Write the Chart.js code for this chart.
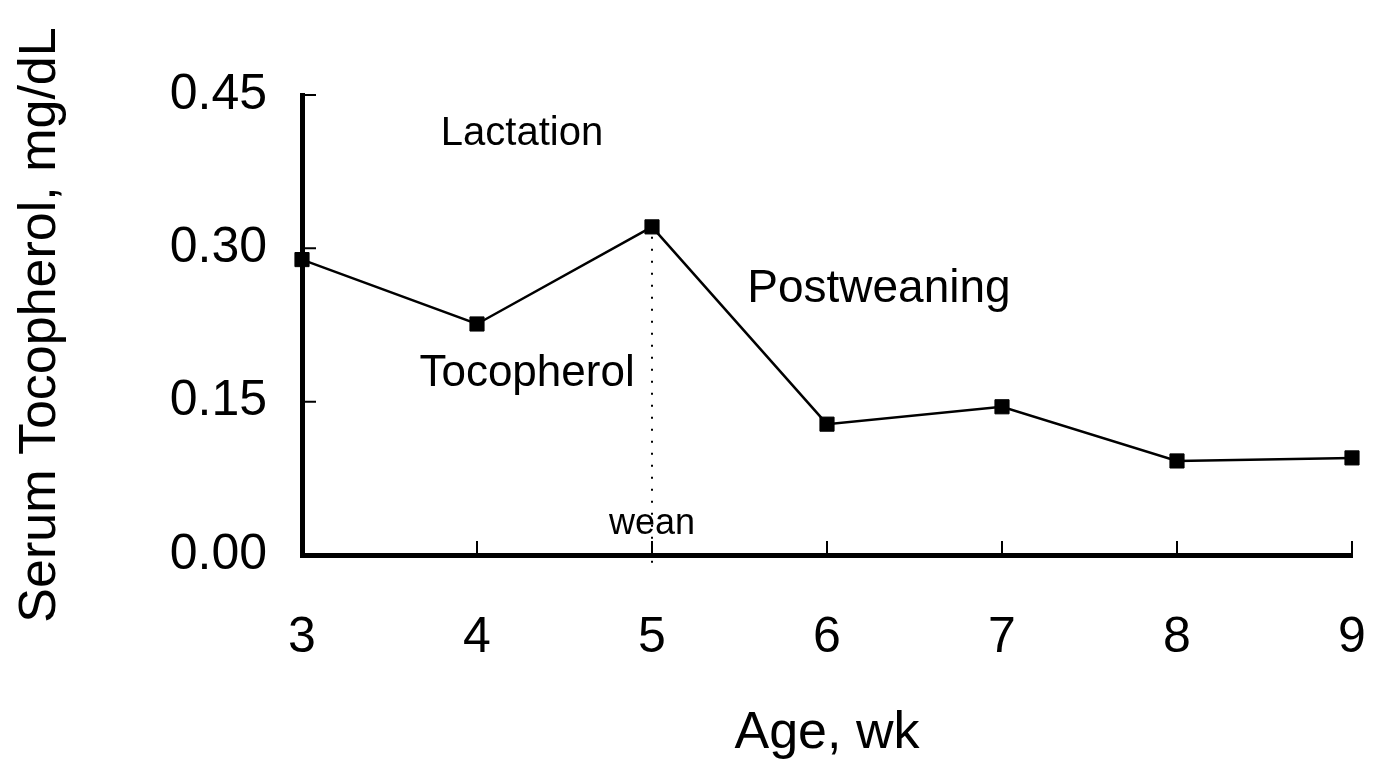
<!DOCTYPE html>
<html lang="en">
<head>
  <meta charset="UTF-8">
  <title>Serum Tocopherol by Age</title>
  <script src="https://cdn.jsdelivr.net/npm/chart.js"></script>
  <style>
    html, body { margin: 0; padding: 0; background: #fff; }
    #wrap { width: 1380px; height: 759px; }
  </style>
</head>
<body>
  <div id="wrap">
    <canvas id="toco-chart" width="1380" height="759"></canvas>
  </div>

  <script>
    // data
    const weeks = [3, 4, 5, 6, 7, 8, 9];
    const tocopherol = [0.289, 0.226, 0.321, 0.128, 0.145, 0.092, 0.095];
    const yTicks = [0, 0.15, 0.30, 0.45];
    const weanWeek = 5;

    // text labels placed in data units
    const notes = [
      { text: 'Lactation', x: 4.257, y: 0.412, size: 40 },
      { text: 'Tocopherol', x: 4.286, y: 0.1775, size: 44 },
      { text: 'Postweaning', x: 6.297, y: 0.260, size: 46 },
      { text: 'wean', x: 5.0, y: 0.030, size: 36 }
    ];

    const fontFamily = '"Liberation Sans", Arial, sans-serif';

    // inward tick marks, dotted wean line and the text notes
    const extras = {
      id: 'extras',
      afterDatasetsDraw(chart) {
        const ctx = chart.ctx;
        const xs = chart.scales.x;
        const ys = chart.scales.y;
        const area = chart.chartArea;
        ctx.save();

        // ticks pointing into the plot
        ctx.strokeStyle = '#000';
        ctx.lineWidth = 2;
        ctx.beginPath();
        weeks.forEach(w => {
          if (w === weeks[0]) return;
          const px = xs.getPixelForValue(w);
          ctx.moveTo(px, area.bottom);
          ctx.lineTo(px, area.bottom - 14);
        });
        yTicks.forEach(v => {
          if (v === 0) return;
          const py = ys.getPixelForValue(v);
          ctx.moveTo(area.left, py);
          ctx.lineTo(area.left + 14, py);
        });
        ctx.stroke();

        // dotted line at weaning
        const wi = weeks.indexOf(weanWeek);
        const wx = xs.getPixelForValue(weanWeek);
        ctx.setLineDash([2, 10]);
        ctx.lineWidth = 2;
        ctx.beginPath();
        ctx.moveTo(wx, ys.getPixelForValue(tocopherol[wi]) + 10);
        ctx.lineTo(wx, ys.getPixelForValue(0) + 8);
        ctx.stroke();
        ctx.setLineDash([]);

        // notes
        ctx.fillStyle = '#000';
        ctx.textAlign = 'center';
        ctx.textBaseline = 'middle';
        notes.forEach(n => {
          ctx.font = n.size + 'px ' + fontFamily;
          ctx.fillText(n.text, xs.getPixelForValue(n.x), ys.getPixelForValue(n.y));
        });
        ctx.restore();
      }
    };

    const ctx = document.getElementById('toco-chart').getContext('2d');

    new Chart(ctx, {
      type: 'line',
      data: {
        datasets: [{
          label: 'Tocopherol',
          data: weeks.map((w, i) => ({ x: w, y: tocopherol[i] })),
          borderColor: '#000',
          borderWidth: 2.5,
          backgroundColor: '#000',
          pointStyle: 'rect',
          pointRadius: 10,
          pointBorderWidth: 1,
          pointBackgroundColor: '#000',
          tension: 0,
          clip: false
        }]
      },
      options: {
        responsive: false,
        animation: false,
        layout: {
          padding: { top: 95, right: 28, left: 0, bottom: 0 }
        },
        plugins: {
          legend: { display: false },
          tooltip: { enabled: false }
        },
        scales: {
          x: {
            type: 'linear',
            min: 3,
            max: 9,
            afterFit: s => { s.height = 204; s.paddingLeft = 0; s.paddingRight = 0; },
            afterBuildTicks: s => { s.ticks = weeks.map(v => ({ value: v })); },
            grid: { display: false, drawTicks: false },
            border: { display: true, width: 5, color: '#000' },
            ticks: {
              color: '#000',
              padding: 53,
              font: { family: fontFamily, size: 50 },
              callback: v => String(v)
            },
            title: {
              display: true,
              text: 'Age, wk',
              color: '#000',
              font: { family: fontFamily, size: 52 },
              padding: { top: 0, bottom: -6 }
            }
          },
          y: {
            min: 0,
            max: 0.45,
            afterFit: s => { s.width = 302; s.paddingTop = 0; s.paddingBottom = 0; },
            afterBuildTicks: s => { s.ticks = yTicks.map(v => ({ value: v })); },
            grid: { display: false, drawTicks: false },
            border: { display: true, width: 5, color: '#000' },
            ticks: {
              color: '#000',
              padding: 35,
              font: { family: fontFamily, size: 50 },
              callback: v => v.toFixed(2)
            },
            title: {
              display: true,
              text: 'Serum Tocopherol, mg/dL',
              color: '#000',
              font: { family: fontFamily, size: 52 },
              padding: { top: 9, bottom: 0 }
            }
          }
        }
      },
      plugins: [extras]
    });
  </script>
</body>
</html>
